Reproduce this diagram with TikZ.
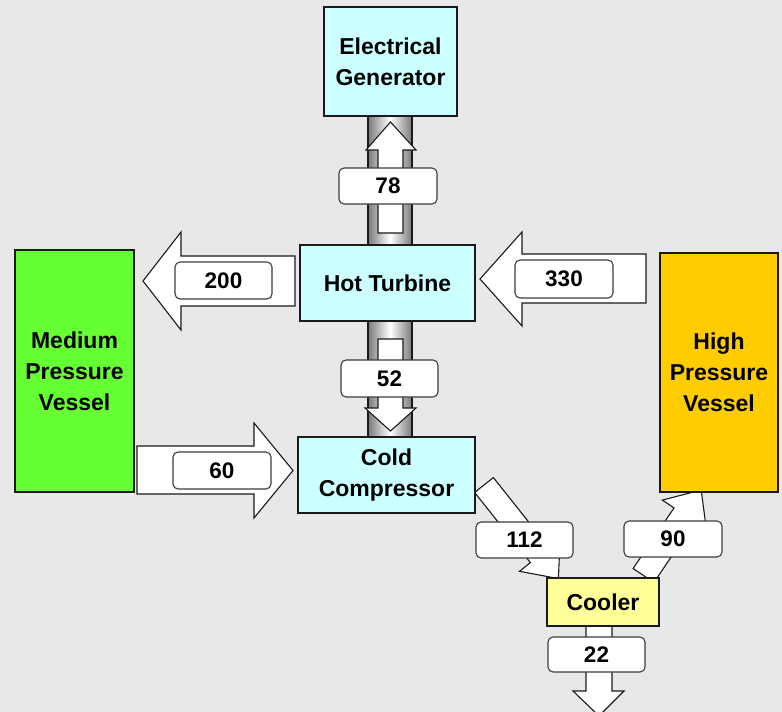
\documentclass[tikz,border=0pt]{standalone}
\usepackage{fontspec}
\setmainfont{Liberation Sans}
\definecolor{bg}{HTML}{E8E8E8}
\definecolor{cyanbox}{HTML}{CCFFFF}
\definecolor{greenbox}{HTML}{66FF33}
\definecolor{orangebox}{HTML}{FFCC00}
\definecolor{yellowbox}{HTML}{FFFF99}
\definecolor{edge}{HTML}{1A1A1A}
\definecolor{shaftgray}{HTML}{7A7A7A}
\tikzset{
  box/.style={draw=edge, line width=1.1pt, inner sep=0pt, outer sep=0pt, align=center,
    font=\fontsize{23}{31}\selectfont\bfseries},
  valbox/.style={draw=edge!85, fill=white, line width=1.1pt, rounded corners=5pt, inner sep=0pt,
    font=\fontsize{22.5}{26}\selectfont\bfseries},
  barrow/.style={draw=edge, fill=white, line width=1.1pt, line join=miter},
  shaftstyle/.style={left color=shaftgray, right color=shaftgray, middle color=white},
}
\begin{document}
\begin{tikzpicture}[x=1pt,y=-1pt]
\fill[bg] (0,0) rectangle (782,712);
\useasboundingbox (0,0) rectangle (782,712);

% shafts
\shade[shaftstyle] (368,116) rectangle (412,245);
\draw[edge, line width=1.1pt] (368,116) rectangle (412,245);
\shade[shaftstyle] (368,321) rectangle (412,437);
\draw[edge, line width=1.1pt] (368,321) rectangle (412,437);

% block arrows
\draw[barrow] (378,233) -- (378,150) -- (366,150) -- (390.5,122) -- (416,150) -- (403,150) -- (403,233) -- cycle;
\draw[barrow] (378,339) -- (378,408) -- (365,408) -- (390.5,431) -- (416,408) -- (403,408) -- (403,339) -- cycle;
\draw[barrow] (295,256) -- (181,256) -- (181,232) -- (143,281) -- (181,330) -- (181,306) -- (295,306) -- cycle;
\draw[barrow] (646,254) -- (522,254) -- (522,232) -- (480,279) -- (522,326) -- (522,303) -- (646,303) -- cycle;
\draw[barrow] (137,446) -- (254,446) -- (254,423) -- (293,470.5) -- (254,518) -- (254,494) -- (137,494) -- cycle;
\draw[barrow] (586,620) -- (586,691) -- (573,691) -- (599,716) -- (624,691) -- (612,691) -- (612,620) -- cycle;
\draw[barrow] (474.6,492.4) -- (530.4,562.6) -- (519.5,571.3) -- (558.4,578.6) -- (560.1,539.1) -- (549.2,547.8) -- (493.4,477.6) -- cycle;
\draw[barrow] (633.1,568.5) -- (674.0,507.9) -- (662.4,500.1) -- (701.2,490.0) -- (706.4,529.7) -- (694.8,521.9) -- (653.9,582.5) -- cycle;

% boxes
\node[box, fill=cyanbox, minimum width=133pt, minimum height=109pt] (gen) at (390.5,61.5) {Electrical\\Generator};
\node[box, fill=cyanbox, minimum width=175pt, minimum height=76pt] (turb) at (387.5,283) {Hot Turbine};
\node[box, fill=cyanbox, minimum width=177pt, minimum height=76pt] (comp) at (386.5,475) {Cold\\Compressor};
\node[box, fill=greenbox, minimum width=119pt, minimum height=242pt] (mpv) at (74.5,371) {Medium\\Pressure\\Vessel};
\node[box, fill=orangebox, minimum width=118pt, minimum height=239pt] (hpv) at (719,372.5) {High\\Pressure\\Vessel};
\node[box, fill=yellowbox, minimum width=112pt, minimum height=48pt] (cool) at (603,602) {Cooler};

% value labels
\node[valbox, minimum width=98pt, minimum height=36pt] (v78) at (388,186) {78};
\node[valbox, minimum width=97pt, minimum height=37pt] (v52) at (389.5,378.5) {52};
\node[valbox, minimum width=97pt, minimum height=37pt] (v200) at (223.5,280.5) {200};
\node[valbox, minimum width=98pt, minimum height=38pt] (v330) at (564,279) {330};
\node[valbox, minimum width=98pt, minimum height=37pt] (v60) at (222,470.5) {60};
\node[valbox, minimum width=97pt, minimum height=36pt] (v112) at (524.5,540) {112};
\node[valbox, minimum width=98pt, minimum height=36pt] (v90) at (673,539) {90};
\node[valbox, minimum width=97pt, minimum height=35pt] (v22) at (596.5,654.5) {22};
\end{tikzpicture}
\end{document}
